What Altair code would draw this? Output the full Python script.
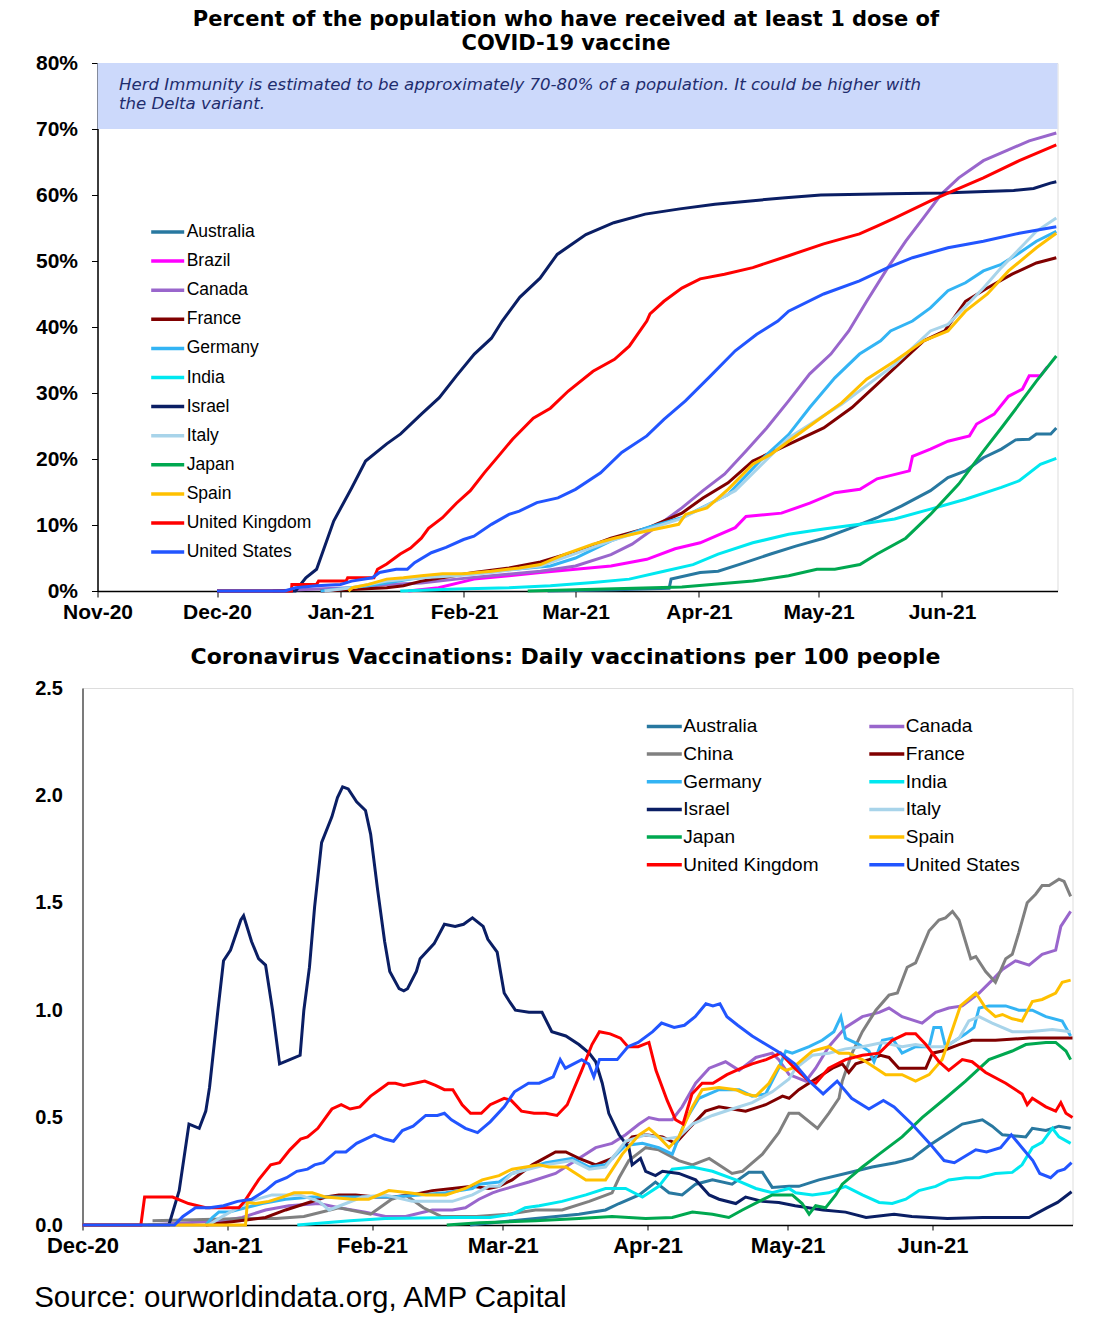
import altair as alt
import pandas as pd
from datetime import datetime, timedelta

# ---------------- text ----------------
TOP_TITLE = ["Percent of the population who have received at least 1 dose of", "COVID-19 vaccine"]
BOTTOM_TITLE = "Coronavirus Vaccinations: Daily vaccinations per 100 people"
SOURCE = "Source: ourworldindata.org, AMP Capital"
HERD_LINES = ["Herd Immunity is estimated to be approximately 70-80% of a population. It could be higher with",
              "the Delta variant."]
HERD_LINE_VALUES = [75.9, 73.0]
HERD_TEXT_DAY = 5.4

TOP_ORIGIN = datetime(2020, 11, 1)     # day 0 of the top chart
BOTTOM_ORIGIN = datetime(2020, 12, 1)  # day 0 of the bottom chart

TOP_TICK_MONTHS = [(2020, 11), (2020, 12), (2021, 1), (2021, 2), (2021, 3), (2021, 4), (2021, 5), (2021, 6)]
BOTTOM_TICK_MONTHS = [(2020, 12), (2021, 1), (2021, 2), (2021, 3), (2021, 4), (2021, 5), (2021, 6)]
TOP_Y_TICKS = [0, 10, 20, 30, 40, 50, 60, 70, 80]
BOTTOM_Y_TICKS = [0.0, 0.5, 1.0, 1.5, 2.0, 2.5]
HERD_RANGE = [70, 80]

TOP_COUNTRIES = ["Australia", "Brazil", "Canada", "France", "Germany", "India", "Israel",
                 "Italy", "Japan", "Spain", "United Kingdom", "United States"]
BOTTOM_COUNTRIES = ["Australia", "Canada", "China", "France", "Germany", "India", "Israel",
                    "Italy", "Japan", "Spain", "United Kingdom", "United States"]
COLORS = {
    "Australia": "#2878A0", "Brazil": "#FF00FF", "Canada": "#9966CC", "China": "#808080",
    "France": "#800000", "Germany": "#33B4F4", "India": "#00E8F0", "Israel": "#0A1E64",
    "Italy": "#A8D4EA", "Japan": "#00A850", "Spain": "#FFC000", "United Kingdom": "#FF0000",
    "United States": "#2255FF",
}

# ---------------- top chart data: (days since 2020-11-01, % with >= 1 dose) ----------------
top_australia = [(113, 0), (130, 0.2), (143.5, 0.4), (144, 1.8), (151.3, 2.8), (155.8, 3.0), (161, 4.0),
                 (169, 5.6), (175.3, 6.8), (182.3, 8.0), (188.6, 9.4), (195.7, 11.1), (201.9, 12.9),
                 (209.1, 15.2), (213.5, 17.2), (217.9, 18.2), (222.4, 20.2), (226.9, 21.5), (230.5, 22.9),
                 (233.9, 23.0), (235.7, 23.8), (239.3, 23.8), (240.7, 24.7)]
top_brazil = [(78, 0), (85.6, 0.5), (94.5, 1.8), (103.3, 2.3), (111.2, 2.8), (120, 3.3), (128.9, 3.8),
              (137.9, 4.8), (145, 6.4), (151.3, 7.3), (160.1, 9.6), (162.8, 11.3), (171.7, 11.8),
              (178.8, 13.3), (185.1, 14.9), (191.4, 15.4), (195.7, 17.0), (203.8, 18.2), (204.6, 20.4),
              (209.1, 21.5), (213.5, 22.7), (218.9, 23.5), (220.7, 25.3), (225.1, 26.8), (228.7, 29.5),
              (232.2, 30.6), (233.9, 32.6), (236.7, 32.6), (238.5, 34.0)]
top_canada = [(44, 0), (55, 0.3), (63.8, 0.5), (72.6, 1.0), (81.3, 1.2), (90.1, 1.8), (98.9, 2.3),
              (111.2, 3.0), (120, 3.8), (128.9, 5.5), (134.2, 7.1), (140.5, 9.8), (146.7, 12.6),
              (152, 15.2), (157.4, 17.7), (162.8, 21.2), (168, 24.7), (173.5, 28.8), (178.8, 32.9),
              (184.1, 35.9), (188.6, 39.4), (193.1, 43.9), (198.4, 49.0), (202.9, 53.0), (207.3, 56.5),
              (211.8, 60.1), (216.2, 62.6), (222.4, 65.2), (226.9, 66.4), (233.9, 68.2), (240.7, 69.4)]
top_france = [(56, 0), (72.6, 0.5), (76.8, 0.8), (81.3, 1.5), (86.6, 2.0), (94.5, 2.8), (103.3, 3.5),
              (111.2, 4.4), (120, 6.0), (128.9, 8.0), (137.9, 9.5), (146.7, 11.8), (152, 14.1),
              (158.3, 16.4), (164.5, 19.7), (173.5, 22.2), (182.3, 24.7), (189.4, 27.8), (195.7, 31.3),
              (201.9, 34.8), (207.4, 37.9), (212.7, 39.4), (217.9, 43.9), (223.4, 45.9), (229.6, 48.0),
              (235.7, 49.7), (240.7, 50.5)]
top_germany = [(56, 0), (68, 0.8), (72.6, 1.2), (78.6, 1.8), (85.6, 2.3), (94.5, 2.6), (103.3, 3.2),
               (113.7, 3.8), (120, 5.0), (128.9, 7.6), (137.9, 9.6), (146.7, 11.1), (158.3, 14.6),
               (166.3, 19.7), (173.5, 23.7), (178.8, 27.8), (185.1, 32.3), (191.3, 35.9), (196.6, 37.9),
               (199.1, 39.4), (204.6, 40.9), (209.1, 42.9), (213.5, 45.5), (217.9, 46.7), (222.4, 48.5),
               (226.9, 49.5), (231.4, 51.2), (235.7, 53.0), (240.7, 54.5)]
top_india = [(76, 0), (90.1, 0.3), (103.3, 0.5), (113.7, 0.8), (124.4, 1.3), (133.5, 1.8), (142.2, 3.0),
             (149.5, 4.0), (155.8, 5.6), (164.5, 7.3), (173.5, 8.6), (182.3, 9.4), (191.3, 10.1),
             (200.1, 10.9), (209.1, 12.4), (217.9, 13.9), (226.9, 15.7), (231.4, 16.7), (236.7, 19.2),
             (240.7, 20.1)]
top_israel = [(30, 0), (49.7, 0), (52.3, 2.0), (55, 3.3), (59.3, 10.6), (63.8, 15.6), (67.3, 19.7),
              (72.6, 22.3), (76.1, 23.8), (81.3, 26.8), (85.8, 29.3), (90.1, 32.6), (94.6, 35.9),
              (98.9, 38.3), (101.6, 40.9), (106, 44.5), (111.1, 47.4), (115.4, 51.0), (122.6, 54.0),
              (129.6, 55.8), (137.5, 57.1), (146.2, 57.9), (155, 58.6), (163.9, 59.1), (172.7, 59.6),
              (181.6, 60.0), (199, 60.2), (212.1, 60.3), (230, 60.7), (235, 61.0), (239.2, 61.8),
              (240.7, 62.0)]
top_italy = [(57, 0), (63.8, 0.5), (72.6, 1.5), (81.3, 2.0), (90.1, 2.3), (98.9, 2.8), (111.2, 3.8),
             (128.9, 7.6), (146.7, 11.0), (160.1, 15.2), (173.5, 23.2), (186.8, 28.3), (200.1, 34.3),
             (209.1, 39.4), (213.5, 40.4), (222.4, 45.9), (226.9, 49.0), (235.7, 54.5), (240.7, 56.5)]
top_japan = [(108, 0), (146.7, 0.6), (164.5, 1.5), (173.5, 2.3), (180.6, 3.3), (185.1, 3.3), (191.4, 4.0),
             (195.7, 5.6), (202.9, 8.0), (209.1, 11.6), (216.2, 16.2), (222.4, 21.2), (226.9, 24.7),
             (231.4, 28.3), (235.7, 31.8), (240.7, 35.6)]
top_spain = [(63, 0), (64, 0.5), (68, 1.0), (72.6, 1.8), (76.8, 2.0), (81.3, 2.3), (86.6, 2.6), (91.9, 2.6),
             (98.9, 3.0), (105.9, 3.5), (111.2, 4.0), (117.4, 5.6), (124.4, 7.1), (129.8, 8.0),
             (137.9, 9.1), (145.9, 10.1), (147.6, 11.6), (153, 12.6), (158.3, 15.4), (164.5, 19.2),
             (169, 20.7), (173.5, 22.7), (180.6, 25.8), (186.8, 28.5), (193.1, 32.1), (200.1, 34.8),
             (207.4, 37.9), (213.5, 39.4), (217.9, 42.4), (223.4, 45.0), (228.7, 48.5), (235.7, 52.0),
             (240.7, 54.2)]
top_uk = [(30, 0), (48.7, 0), (48.8, 1.0), (55, 1.0), (55.5, 1.5), (62.4, 1.5), (62.8, 2.0), (69.4, 2.0),
          (70.3, 3.3), (72.6, 4.1), (76, 5.6), (78.6, 6.5), (81.3, 8.0), (83.1, 9.5), (86.6, 11.1),
          (90.1, 13.3), (93.6, 15.2), (97.1, 17.9), (100.6, 20.4), (104.2, 23.0), (109.4, 26.2),
          (113.7, 27.7), (118.2, 30.3), (124.4, 33.3), (129.8, 35.1), (133.5, 37.1), (137.9, 40.9),
          (138.7, 42.0), (142.2, 43.9), (146.7, 45.9), (151.3, 47.3), (157.4, 48.0), (164.5, 49.0),
          (173.5, 50.8), (182.3, 52.6), (191.3, 54.1), (195.7, 55.3), (200.1, 56.5), (209.1, 59.1),
          (213.5, 60.3), (222.4, 62.6), (231.4, 65.2), (240.7, 67.6)]
top_us = [(30, 0), (47, 0), (49.7, 0.5), (55, 0.8), (61, 1.0), (63.8, 1.5), (69, 2.0), (70.8, 2.8),
          (75, 3.3), (77.8, 3.3), (79.6, 4.3), (83.8, 5.8), (87.5, 6.6), (91.9, 7.8), (94.5, 8.3),
          (98.9, 10.1), (103.3, 11.6), (105.9, 12.1), (110.3, 13.4), (115.6, 14.1), (120, 15.4),
          (126.3, 17.9), (131.6, 21.0), (137.9, 23.5), (142.2, 26.0), (147.6, 28.8), (153.9, 32.6),
          (160.1, 36.4), (165.5, 38.9), (170.8, 40.9), (173.5, 42.4), (182.3, 45.0), (191.3, 47.0),
          (198.4, 49.0), (204.6, 50.5), (213.5, 52.0), (222.4, 53.0), (231.4, 54.2), (240.7, 55.2)]

# ---------------- bottom chart data: (days since 2020-12-01, daily doses per 100) ----------------
bot_australia = [(83, 0), (92, 0.02), (99.2, 0.035), (106.3, 0.05), (112, 0.07), (114.9, 0.10), (119.2, 0.14),
                 (122.7, 0.20), (125.6, 0.15), (128.4, 0.14), (131.3, 0.19), (134.9, 0.21), (139.1, 0.19),
                 (142.7, 0.245), (145.6, 0.245), (147.7, 0.175), (151.3, 0.18), (153.4, 0.18), (157.7, 0.21),
                 (163.4, 0.24), (169.1, 0.27), (174.1, 0.29), (177.7, 0.31), (181.3, 0.37), (184.8, 0.42),
                 (188.4, 0.47), (192.7, 0.49), (194.8, 0.46), (197, 0.42), (202, 0.41), (203.4, 0.45),
                 (206.3, 0.44), (209.1, 0.46), (211.6, 0.45)]
bot_canada = [(14, 0), (30, 0.02), (34.2, 0.035), (39.2, 0.07), (44.2, 0.09), (50.6, 0.10), (54.9, 0.08),
              (60.6, 0.06), (64.9, 0.04), (69.2, 0.04), (74.9, 0.07), (79.2, 0.07), (82, 0.08), (84.9, 0.12),
              (87.8, 0.15), (89.2, 0.16), (95.6, 0.20), (101.3, 0.24), (105.6, 0.30), (109.9, 0.36),
              (113.4, 0.38), (116.3, 0.42), (119.2, 0.47), (121.3, 0.50), (123.4, 0.49), (126.3, 0.49),
              (128.4, 0.55), (131.3, 0.66), (134.2, 0.73), (137.7, 0.76), (140.6, 0.72), (144.2, 0.78),
              (147.7, 0.80), (149.1, 0.77), (151.3, 0.70), (154.9, 0.67), (157, 0.73), (159.8, 0.83),
              (163.4, 0.92), (167, 0.97), (170.6, 0.99), (172.7, 1.01), (175.5, 0.97), (179.8, 0.94),
              (182.7, 0.99), (185.5, 1.01), (188.4, 1.02), (192, 1.08), (194.8, 1.14), (197, 1.19),
              (199.8, 1.23), (202.7, 1.21), (205.5, 1.26), (208.4, 1.28), (209.5, 1.39), (211.6, 1.46)]
bot_china = [(15, 0.02), (34.7, 0.03), (41.4, 0.03), (47.4, 0.04), (54.9, 0.08), (61.7, 0.05), (66.2, 0.12),
             (69.2, 0.14), (73, 0.08), (76.8, 0.04), (84.3, 0.04), (91, 0.05), (97, 0.07), (102.7, 0.07),
             (108.5, 0.11), (113.4, 0.15), (114.9, 0.22), (117, 0.30), (120.6, 0.36), (123.4, 0.35),
             (127.7, 0.30), (130.6, 0.28), (134.2, 0.31), (139.1, 0.24), (141.3, 0.25), (145.6, 0.33),
             (149.1, 0.43), (151.3, 0.52), (153.4, 0.52), (157.4, 0.45), (159.8, 0.52), (162, 0.59),
             (162.7, 0.67), (164.8, 0.80), (167, 0.90), (169.9, 1.0), (172.7, 1.07), (174.5, 1.08),
             (176.6, 1.20), (178.4, 1.22), (181.3, 1.37), (183.4, 1.42), (184.8, 1.43), (186.3, 1.46),
             (187.7, 1.42), (190.2, 1.24), (191.3, 1.25), (193.4, 1.18), (195.5, 1.13), (197.7, 1.24),
             (199.1, 1.26), (200.5, 1.36), (202.3, 1.50), (204.1, 1.54), (205.5, 1.58), (207, 1.58),
             (209.1, 1.61), (210.2, 1.60), (211.6, 1.53)]
bot_france = [(26.4, 0), (39.2, 0.035), (43.5, 0.07), (47.8, 0.10), (52.1, 0.13), (54.9, 0.14), (58.5, 0.14),
              (62.8, 0.13), (66.3, 0.13), (70.6, 0.14), (74.9, 0.16), (79.2, 0.17), (83.5, 0.18), (87, 0.17),
              (89.2, 0.18), (92, 0.21), (96.3, 0.28), (101.3, 0.34), (103.5, 0.34), (106.3, 0.31),
              (109.9, 0.28), (113.4, 0.31), (117.7, 0.41), (120.6, 0.42), (124.2, 0.41), (127, 0.38),
              (129.9, 0.45), (133.4, 0.53), (136.3, 0.55), (142, 0.53), (146.3, 0.56), (149.9, 0.60),
              (151.3, 0.59), (153.4, 0.63), (156.3, 0.67), (160.6, 0.73), (162.7, 0.75), (164.1, 0.71),
              (165.6, 0.75), (168.4, 0.77), (170.9, 0.79), (172.7, 0.78), (174.8, 0.73), (177.7, 0.73),
              (180.6, 0.73), (182, 0.80), (184.1, 0.81), (187.7, 0.84), (190.5, 0.86), (195.5, 0.86),
              (202.7, 0.87), (212, 0.87)]
bot_germany = [(26.4, 0), (27.8, 0.035), (29.2, 0.06), (31.4, 0.06), (34.9, 0.08), (38.5, 0.10), (43.5, 0.12),
               (49.2, 0.13), (54.9, 0.13), (60.6, 0.13), (66.3, 0.13), (72.1, 0.14), (77.8, 0.15), (83.5, 0.17),
               (84.9, 0.19), (89.2, 0.20), (92, 0.24), (99.2, 0.29), (104.9, 0.31), (108.5, 0.27), (112, 0.28),
               (116.3, 0.37), (119.9, 0.38), (123.4, 0.36), (126.3, 0.33), (129.2, 0.49), (132, 0.59),
               (136.3, 0.63), (140.6, 0.63), (143.4, 0.60), (146.3, 0.61), (149.1, 0.73), (150.6, 0.81),
               (152, 0.80), (155.6, 0.83), (158.4, 0.86), (160.9, 0.90), (162.4, 0.97), (163.4, 0.87),
               (166.3, 0.84), (168.4, 0.81), (169.5, 0.76), (171.3, 0.86), (173.4, 0.87), (175.5, 0.80),
               (178.4, 0.83), (181.3, 0.83), (182.3, 0.92), (183.8, 0.92), (184.8, 0.83), (187, 0.86),
               (189.1, 0.89), (190.9, 0.92), (192, 1.01), (194.1, 1.02), (197.7, 1.02), (200.5, 1.00),
               (203.4, 1.00), (206.3, 0.97), (209.8, 0.95), (211.6, 0.88)]
bot_india = [(46, 0), (57.3, 0.02), (64.8, 0.03), (79.8, 0.035), (87.3, 0.035), (92, 0.05), (94.8, 0.08),
             (97.8, 0.09), (102.7, 0.11), (107.8, 0.14), (112, 0.17), (116.3, 0.17), (119.9, 0.13),
             (123.4, 0.18), (126.3, 0.26), (130.6, 0.27), (134.9, 0.25), (139.9, 0.21), (144.2, 0.17),
             (147.7, 0.15), (151.3, 0.17), (152.7, 0.15), (156.3, 0.14), (159.8, 0.15), (163.4, 0.18),
             (167, 0.14), (170.6, 0.105), (173.4, 0.10), (176.3, 0.12), (179.1, 0.16), (182.7, 0.18),
             (185.5, 0.21), (189.1, 0.22), (192, 0.22), (195.5, 0.24), (199.1, 0.245), (201.2, 0.28),
             (203.4, 0.36), (205.5, 0.385), (207.7, 0.45), (209.1, 0.41), (211.6, 0.38)]
bot_israel = [(0, 0), (18.5, 0), (20.7, 0.16), (22.8, 0.47), (25, 0.45), (26.4, 0.53), (27.2, 0.64), (29, 1.0),
              (30.2, 1.23), (31.7, 1.28), (33.9, 1.42), (34.5, 1.44), (36.2, 1.32), (37.7, 1.24), (39.2, 1.21),
              (40.7, 1.0), (42.2, 0.75), (44.4, 0.77), (46.6, 0.79), (47.4, 1.0), (48.6, 1.2), (49.7, 1.48),
              (51.2, 1.78), (53.4, 1.9), (54.6, 1.99), (55.7, 2.04), (56.9, 2.03), (58.7, 1.97), (60.6, 1.93),
              (61.7, 1.82), (63.2, 1.56), (64.7, 1.32), (65.8, 1.18), (67.8, 1.1), (68.8, 1.09), (69.6, 1.1),
              (71.5, 1.18), (72.3, 1.24), (75.3, 1.31), (77.5, 1.40), (79.8, 1.39), (81.6, 1.40), (83.5, 1.43),
              (85.8, 1.39), (86.8, 1.33), (88.8, 1.27), (89.5, 1.18), (90.3, 1.08), (91.3, 1.045), (92.7, 1.0),
              (95.6, 0.99), (98.4, 0.99), (100.5, 0.90), (103.5, 0.88), (106.3, 0.84), (108.5, 0.80),
              (109.9, 0.76), (111.3, 0.66), (112.7, 0.52), (114.9, 0.42), (117, 0.36), (117.7, 0.28),
              (119.5, 0.31), (120.6, 0.25), (122.7, 0.23), (124.2, 0.25), (127.7, 0.24), (131.3, 0.21),
              (134.2, 0.14), (136.3, 0.12), (139.9, 0.10), (142, 0.13), (145.6, 0.11), (149.1, 0.105),
              (152.6, 0.09), (158.6, 0.07), (163.4, 0.06), (167.8, 0.035), (173.8, 0.05), (177.6, 0.04),
              (185.2, 0.03), (192.8, 0.035), (202.7, 0.035), (206.5, 0.08), (208.8, 0.105), (211.8, 0.155)]
bot_italy = [(27, 0), (30, 0.04), (35.7, 0.11), (40.6, 0.14), (46.4, 0.14), (50.6, 0.11), (52.8, 0.07),
             (56.4, 0.10), (59.9, 0.13), (64.9, 0.14), (70.6, 0.11), (74.9, 0.11), (79.2, 0.11), (83.5, 0.14),
             (87, 0.18), (89.2, 0.18), (92, 0.24), (99.2, 0.28), (104.9, 0.30), (108.5, 0.26), (112, 0.27),
             (116.3, 0.39), (120.6, 0.42), (124.9, 0.40), (127.7, 0.41), (130.6, 0.47), (134.9, 0.51),
             (139.1, 0.54), (143.4, 0.57), (147.7, 0.62), (151.3, 0.68), (152.7, 0.73), (156.3, 0.79),
             (159.8, 0.80), (163.4, 0.82), (167, 0.83), (171.3, 0.85), (175.5, 0.83), (178.4, 0.84),
             (181.3, 0.83), (184.8, 0.83), (187.7, 0.87), (189.8, 0.95), (192, 0.97), (194.8, 0.94),
             (199.1, 0.90), (202.7, 0.90), (207.7, 0.91), (211.6, 0.90)]
bot_japan = [(78, 0), (85, 0.01), (97, 0.02), (106.3, 0.03), (113.4, 0.04), (120.6, 0.03), (126.3, 0.035),
             (130.6, 0.06), (134.9, 0.05), (138.4, 0.035), (141.3, 0.07), (144.9, 0.11), (147.7, 0.14),
             (150.6, 0.14), (152, 0.14), (154.1, 0.10), (155.6, 0.05), (157, 0.09), (159.1, 0.08),
             (161.3, 0.14), (162.7, 0.19), (167, 0.27), (170.6, 0.33), (175.5, 0.41), (179.8, 0.50),
             (184.8, 0.59), (189.1, 0.67), (194.1, 0.77), (199.1, 0.81), (202, 0.84), (206.3, 0.85),
             (208.4, 0.85), (210.6, 0.81), (211.6, 0.77)]
bot_spain = [(0, 0), (34.9, 0), (35.3, 0.105), (37.1, 0.10), (39.9, 0.11), (42.8, 0.13), (45.3, 0.15),
             (49.2, 0.15), (52.1, 0.13), (57.8, 0.12), (61.3, 0.12), (65.6, 0.16), (69.9, 0.15), (73.5, 0.14),
             (77.8, 0.14), (82, 0.17), (85.6, 0.21), (89.2, 0.23), (92, 0.26), (97.8, 0.28), (99.9, 0.27),
             (103.5, 0.27), (107.8, 0.21), (112, 0.21), (115.6, 0.33), (119.2, 0.42), (121.3, 0.45),
             (123.4, 0.41), (125.6, 0.36), (127.7, 0.41), (130.6, 0.55), (132.7, 0.63), (136.3, 0.64),
             (139.9, 0.63), (142, 0.61), (144.2, 0.60), (147, 0.66), (149.1, 0.74), (150.6, 0.72),
             (152, 0.73), (156.3, 0.81), (159.8, 0.83), (162, 0.80), (164.1, 0.80), (167, 0.77),
             (169.9, 0.73), (172, 0.70), (175.5, 0.70), (178.4, 0.67), (181.3, 0.70), (184.1, 0.77),
             (185.5, 0.86), (188, 1.02), (191.3, 1.08), (193.4, 1.01), (195.5, 0.97), (197, 0.98),
             (199.1, 0.96), (201.2, 0.95), (203.4, 1.04), (205.5, 1.05), (208.4, 1.08), (209.8, 1.13),
             (211.6, 1.14)]
bot_uk = [(0, 0), (12.5, 0), (13.3, 0.13), (19.3, 0.13), (22.7, 0.10), (26.4, 0.08), (30.2, 0.08), (33.5, 0.08),
          (34.7, 0.11), (37.7, 0.21), (40.3, 0.28), (42.2, 0.29), (44.4, 0.35), (46.7, 0.40), (48.2, 0.41),
          (50.4, 0.45), (53.4, 0.54), (55.4, 0.56), (57.3, 0.54), (59.4, 0.55), (61.7, 0.60), (63.6, 0.63),
          (65.5, 0.66), (67, 0.66), (68.8, 0.65), (71.1, 0.66), (73.3, 0.67), (75.6, 0.65), (77.5, 0.63),
          (79.3, 0.63), (81.3, 0.56), (83.1, 0.52), (85.4, 0.52), (87.3, 0.56), (90.3, 0.59), (91.8, 0.58),
          (94, 0.53), (96.7, 0.52), (99.2, 0.52), (101.6, 0.51), (103.8, 0.56), (106.9, 0.72), (109.1, 0.84),
          (110.7, 0.90), (113, 0.89), (115.2, 0.87), (116.8, 0.83), (119, 0.83), (121.3, 0.85), (122.8, 0.72),
          (125.2, 0.58), (127, 0.49), (128.6, 0.47), (130.5, 0.61), (132.7, 0.66), (135, 0.66), (138, 0.70),
          (141.1, 0.73), (143.4, 0.75), (146.4, 0.77), (149.5, 0.80), (152.5, 0.73), (155.6, 0.67),
          (157, 0.66), (159.8, 0.73), (163.4, 0.77), (167, 0.79), (170.6, 0.80), (173.4, 0.86),
          (176.3, 0.89), (178.4, 0.89), (180.6, 0.84), (183.4, 0.76), (185.5, 0.72), (188.4, 0.77),
          (190.5, 0.76), (193.4, 0.71), (197.7, 0.66), (201.2, 0.61), (202.3, 0.56), (203.4, 0.59),
          (206.3, 0.55), (208.4, 0.53), (209.5, 0.57), (210.6, 0.52), (212, 0.50)]
bot_us = [(0, 0), (19.7, 0), (21.5, 0.04), (24.2, 0.08), (27.2, 0.08), (30.2, 0.09), (33.2, 0.11), (36.2, 0.12),
          (39.2, 0.16), (41.4, 0.20), (43.7, 0.22), (45.9, 0.25), (48.2, 0.26), (49.7, 0.28), (51.6, 0.29),
          (54.2, 0.34), (56.4, 0.34), (58.7, 0.38), (62.5, 0.42), (64.7, 0.40), (66.6, 0.39), (68.5, 0.44),
          (70.8, 0.46), (73.5, 0.51), (76, 0.51), (77.5, 0.52), (79, 0.49), (82, 0.45), (84.6, 0.43),
          (87.3, 0.48), (90.3, 0.55), (92.5, 0.62), (95.5, 0.66), (97.8, 0.66), (100.8, 0.69), (102.3, 0.77),
          (103.4, 0.73), (106.9, 0.77), (108.4, 0.75), (109.5, 0.69), (110.7, 0.77), (114.5, 0.77),
          (116.8, 0.83), (119, 0.85), (122.1, 0.90), (124, 0.94), (126.7, 0.92), (128.9, 0.93), (131.2, 0.97),
          (133.5, 1.03), (135, 1.02), (136.5, 1.03), (138, 0.97), (140.3, 0.93), (143.4, 0.88), (146.4, 0.84),
          (149.5, 0.80), (152.5, 0.75), (155.6, 0.67), (158.6, 0.61), (161.6, 0.67), (164.7, 0.59),
          (168.4, 0.54), (171.5, 0.58), (173.8, 0.55), (177.6, 0.47), (181.4, 0.38), (184.5, 0.30),
          (186.7, 0.29), (189, 0.32), (191.3, 0.35), (193.6, 0.34), (196.6, 0.36), (198.9, 0.42),
          (201.2, 0.36), (203.5, 0.30), (205, 0.24), (207.3, 0.22), (208.8, 0.25), (210.3, 0.26),
          (211.8, 0.29)]

TOP_SERIES = [("Australia", top_australia), ("Brazil", top_brazil), ("Canada", top_canada),
              ("France", top_france), ("Germany", top_germany), ("India", top_india),
              ("Israel", top_israel), ("Italy", top_italy), ("Japan", top_japan), ("Spain", top_spain),
              ("United Kingdom", top_uk), ("United States", top_us)]
BOTTOM_SERIES = [("Australia", bot_australia), ("Canada", bot_canada), ("China", bot_china),
                 ("France", bot_france), ("Germany", bot_germany), ("India", bot_india),
                 ("Israel", bot_israel), ("Italy", bot_italy), ("Japan", bot_japan), ("Spain", bot_spain),
                 ("United Kingdom", bot_uk), ("United States", bot_us)]


def stamp(origin, days):
    return (origin + timedelta(days=days)).strftime("%Y-%m-%dT%H:%M:%S")


def frame(origin, series):
    rows = []
    for name, pts in series:
        for d, v in pts:
            rows.append({"country": name, "date": stamp(origin, d), "value": v})
    return pd.DataFrame(rows)


top_df = frame(TOP_ORIGIN, TOP_SERIES)
bottom_df = frame(BOTTOM_ORIGIN, BOTTOM_SERIES)

TOP_DOMAIN = [alt.DateTime(year=2020, month=11, date=1), alt.DateTime(year=2021, month=6, date=30)]
BOTTOM_DOMAIN = [alt.DateTime(year=2020, month=12, date=1), alt.DateTime(year=2021, month=7, date=1)]

band_df = pd.DataFrame({"start": ["2020-11-01T00:00:00"], "end": ["2021-06-30T00:00:00"],
                        "lo": [HERD_RANGE[0]], "hi": [HERD_RANGE[1]]})
herd_df = pd.DataFrame({"date": [stamp(TOP_ORIGIN, HERD_TEXT_DAY)] * 2, "value": HERD_LINE_VALUES,
                        "line": HERD_LINES})

AX_FONT = "Liberation Sans"

top_x_axis = alt.Axis(title=None, format="%b-%y",
                      values=[alt.DateTime(year=y, month=m, date=1) for y, m in TOP_TICK_MONTHS],
                      labelFont=AX_FONT, labelFontSize=21, labelFontWeight="bold", labelColor="black",
                      labelPadding=4, labelFlush=False, labelOverlap=False, tickColor="black", tickSize=6,
                      domainColor="black", domainWidth=1.5, grid=False)
top_y_axis = alt.Axis(title=None, values=TOP_Y_TICKS, labelExpr="datum.value + '%'",
                      labelFont=AX_FONT, labelFontSize=21, labelFontWeight="bold", labelColor="black",
                      labelPadding=14, labelFlush=False, labelOverlap=False, tickColor="black", tickSize=6,
                      domainColor="black", domainWidth=1.5, grid=False)

xt = alt.Scale(domain=TOP_DOMAIN)
yt = alt.Scale(domain=[0, 80], nice=False)

band = alt.Chart(band_df).mark_rect(color="#CCD9FB").encode(
    x=alt.X("start:T", scale=xt, axis=top_x_axis), x2="end:T",
    y=alt.Y("lo:Q", scale=yt, axis=top_y_axis), y2="hi:Q")

herd_text = alt.Chart(herd_df).mark_text(
    align="left", baseline="alphabetic", font="DejaVu Sans", fontStyle="italic", fontSize=16.6,
    color="#1F2D6E"
).encode(x=alt.X("date:T", scale=xt, axis=top_x_axis), y=alt.Y("value:Q", scale=yt, axis=top_y_axis),
         text="line:N")

top_lines = alt.Chart(top_df).mark_line(strokeWidth=3).encode(
    x=alt.X("date:T", scale=xt, axis=top_x_axis),
    y=alt.Y("value:Q", scale=yt, axis=top_y_axis),
    color=alt.Color("country:N",
                    scale=alt.Scale(domain=TOP_COUNTRIES, range=[COLORS[c] for c in TOP_COUNTRIES]),
                    legend=alt.Legend(title=None, orient="none", legendX=51.7, legendY=150.5, padding=0,
                                      direction="vertical", columns=1, symbolType="stroke",
                                      symbolSize=1089, symbolStrokeWidth=3.5, labelFont=AX_FONT,
                                      labelFontSize=17.5, labelColor="black", labelOffset=0.5,
                                      rowPadding=2.1, labelLimit=300)),
)

top = alt.layer(band, herd_text, top_lines).properties(
    width=960, height=528,
    title=alt.TitleParams(TOP_TITLE, font="DejaVu Sans", fontSize=21, fontWeight="bold", color="black",
                          anchor="middle", lineHeight=24, offset=-2, dx=-11.5),
)

bottom_x_axis = alt.Axis(title=None, format="%b-%y",
                         values=[alt.DateTime(year=y, month=m, date=1) for y, m in BOTTOM_TICK_MONTHS],
                         labelFont=AX_FONT, labelFontSize=22, labelFontWeight="bold", labelColor="black",
                         labelPadding=5, labelFlush=False, labelOverlap=False, tickColor="black",
                         tickSize=5, domainColor="black", domainWidth=1.5, grid=False)
bottom_y_axis = alt.Axis(title=None, values=BOTTOM_Y_TICKS, format=".1f",
                         labelFont=AX_FONT, labelFontSize=20, labelFontWeight="bold", labelColor="black",
                         labelPadding=20, labelFlush=False, labelOverlap=False, ticks=False, tickSize=0,
                         domainColor="#555555", domainWidth=1.5, grid=False)

bottom = alt.Chart(bottom_df).mark_line(strokeWidth=3).encode(
    x=alt.X("date:T", scale=alt.Scale(domain=BOTTOM_DOMAIN), axis=bottom_x_axis),
    y=alt.Y("value:Q", scale=alt.Scale(domain=[0, 2.5], nice=False), axis=bottom_y_axis),
    color=alt.Color("country:N",
                    scale=alt.Scale(domain=BOTTOM_COUNTRIES, range=[COLORS[c] for c in BOTTOM_COUNTRIES]),
                    legend=alt.Legend(title=None, orient="none", legendX=564.8, legendY=21.4, padding=0,
                                      direction="horizontal", columns=2, columnPadding=42.5,
                                      symbolType="M-1.155,0H1.155", symbolSize=918, symbolStrokeWidth=3.5,
                                      labelFont=AX_FONT, labelFontSize=19, labelColor="black",
                                      labelOffset=2, rowPadding=0.67, labelLimit=300)),
).properties(
    width=990, height=537,
    title=alt.TitleParams(BOTTOM_TITLE, font="DejaVu Sans", fontSize=22, fontWeight="bold", color="black",
                          anchor="middle", offset=9, dx=-12),
)

chart = alt.vconcat(
    top, bottom, spacing=97, center=True, bounds="flush",
    title=alt.TitleParams(SOURCE, orient="bottom", anchor="start", font=AX_FONT, fontSize=29.5,
                          fontWeight="normal", color="black", offset=27.7),
    padding={"left": 25.5, "top": 0, "right": 0, "bottom": 5},
).resolve_scale(color="independent").resolve_legend(color="independent").configure_view(
    stroke="#333333", strokeWidth=1.2).configure(background="white")

chart.save("out.html", embed_options={"renderer": "svg", "actions": False})
